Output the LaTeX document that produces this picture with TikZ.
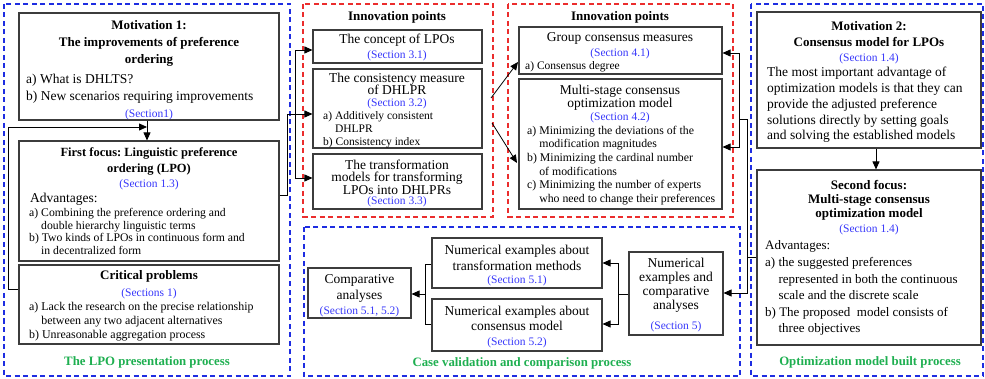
\documentclass[tikz,border=0pt]{standalone}
\usepackage{fontspec}
\setmainfont{Liberation Serif}
\usetikzlibrary{arrows.meta,calc}
\definecolor{secblue}{RGB}{55,55,250}
\definecolor{dblue}{RGB}{30,45,225}
\definecolor{dred}{RGB}{235,45,45}
\definecolor{lgreen}{RGB}{30,175,80}
\definecolor{boxgray}{RGB}{60,60,60}
\tikzset{
  box/.style={draw=boxgray, line width=1.1pt, inner sep=0pt},
  bluereg/.style={draw=dblue, dashed, dash pattern=on 5pt off 3.5pt, line width=1.1pt},
  redreg/.style={draw=dred, dashed, dash pattern=on 5pt off 3.5pt, line width=1.1pt},
  conn/.style={draw=black, line width=0.8pt},
  arr/.style={conn, -{Triangle[length=8pt,width=7pt]}},
  txt/.style={inner sep=0pt, yshift=-1.5pt},
  ttl/.style={txt, align=center, font=\fontsize{13}{16}\bfseries\selectfont},
  ttlB/.style={txt, align=center, font=\fontsize{13.5}{15}\selectfont},
  sec/.style={txt, text=secblue, font=\fontsize{11.5}{12}\selectfont},
  bodyA/.style={txt, align=left, anchor=west, font=\fontsize{13.5}{16.5}\selectfont},
  bodyB/.style={txt, align=left, anchor=west, font=\fontsize{11.8}{13}\selectfont},
  proc/.style={txt, text=lgreen, font=\fontsize{12.8}{15}\bfseries\selectfont},
}
\newcommand{\ind}{\phantom{a) }}
\frenchspacing
\begin{document}
\begin{tikzpicture}[x=1pt,y=-1pt]
\useasboundingbox (0,0) rectangle (985,379);
% regions
\draw[bluereg] (4,4) rectangle (290,376);
\draw[redreg] (303,4) rectangle (493,217);
\draw[redreg] (508,4) rectangle (733,217);
\draw[bluereg] (304,227) rectangle (740,376);
\draw[bluereg] (751,4) rectangle (983,376);

% boxes
\node[box, minimum width=260pt, minimum height=107pt] (m1) at (149,66.5) {};
\node[box, minimum width=260pt, minimum height=120pt] (ff) at (149,201) {};
\node[box, minimum width=260pt, minimum height=79pt] (cp) at (149,304.5) {};
\node[box, minimum width=169pt, minimum height=33pt] (con) at (397.5,46.5) {};
\node[box, minimum width=169pt, minimum height=79pt] (cm) at (397.5,108.5) {};
\node[box, minimum width=169pt, minimum height=55pt] (tm) at (397.5,181.5) {};
\node[box, minimum width=203pt, minimum height=47pt] (gc) at (620.5,50.5) {};
\node[box, minimum width=203pt, minimum height=130pt] (ms) at (620.5,144) {};
\node[box, minimum width=224pt, minimum height=136pt] (m2) at (869,80) {};
\node[box, minimum width=224pt, minimum height=175pt] (sf) at (869,257.5) {};
\node[box, minimum width=103pt, minimum height=50pt] (ca) at (359.5,293) {};
\node[box, minimum width=170pt, minimum height=50pt] (nt) at (517,263) {};
\node[box, minimum width=170pt, minimum height=52pt] (nc) at (517,325) {};
\node[box, minimum width=94pt, minimum height=83pt] (ne) at (676,293.5) {};

% texts: left column
\node[ttl, font=\fontsize{13}{17}\bfseries\selectfont] (m1t) at (149,42) {Motivation 1:\\The improvements of preference\\ordering};
\node[bodyA, font=\fontsize{13.5}{17}\selectfont] (m1b) at (26,87.5) {a) What is DHLTS?\\b) New scenarios requiring improvements};
\node[sec] (m1s) at (149,113) {(Section1)};
\node[ttl, font=\fontsize{12.5}{16}\bfseries\selectfont] (fft) at (149,160) {First focus: Linguistic preference\\ordering (LPO)};
\node[sec] (ffs) at (149,183) {(Section 1.3)};
\node[bodyA] (ffa) at (30,198) {Advantages:};
\node[bodyB, font=\fontsize{11.7}{12.7}\selectfont] (ffb) at (29,231) {a) Combining the preference ordering and\\\ind double hierarchy linguistic terms\\b) Two kinds of LPOs in continuous form and\\\ind in decentralized form};
\node[ttl] (cpt) at (149,275) {Critical problems};
\node[sec] (cps) at (149,292) {(Sections 1)};
\node[bodyB, font=\fontsize{11.9}{14}\selectfont] (cpb) at (29,320) {a) Lack the research on the precise relationship\\\ind between any two adjacent alternatives\\b) Unreasonable aggregation process};
\node[proc] (l1) at (147,361) {The LPO presentation process};

% red region 1
\node[ttl] (ip1) at (397,16) {Innovation points};
\node[ttlB] (cont) at (397,39) {The concept of LPOs};
\node[sec] (cons) at (397,54) {(Section 3.1)};
\node[ttlB, font=\fontsize{13.5}{12.5}\selectfont] (cmt) at (397,82.5) {The consistency measure\\of DHLPR};
\node[sec] (cms) at (397,102) {(Section 3.2)};
\node[bodyB, font=\fontsize{11.5}{13}\selectfont] (cmb) at (323,128) {a) Additively consistent\\\ind DHLPR\\b) Consistency index};
\node[ttlB, font=\fontsize{13.5}{12.5}\selectfont] (tmt) at (397,175.5) {The transformation\\models for transforming\\LPOs into DHLPRs};
\node[sec] (tms) at (397,200) {(Section 3.3)};

% red region 2
\node[ttl] (ip2) at (620,16) {Innovation points};
\node[ttlB] (gct) at (620,37) {Group consensus measures};
\node[sec] (gcs) at (620,52) {(Section 4.1)};
\node[bodyB, font=\fontsize{11.5}{13}\selectfont] (gcb) at (525,65) {a) Consensus degree};
\node[ttlB, font=\fontsize{13.5}{13}\selectfont] (mst) at (620,96.5) {Multi-stage consensus\\optimization model};
\node[sec] (mss) at (620,116) {(Section 4.2)};
\node[bodyB, font=\fontsize{11.8}{13.6}\selectfont] (msb) at (527,164) {a) Minimizing the deviations of the\\\ind modification magnitudes\\b) Minimizing the cardinal number\\\ind of modifications\\c) Minimizing the number of experts\\\ind who need to change their preferences};

% right column
\node[ttl] (m2t) at (869,33) {Motivation 2:\\Consensus model for LPOs};
\node[sec] (m2s) at (869,57) {(Section 1.4)};
\node[bodyA, font=\fontsize{13.5}{15.75}\selectfont] (m2b) at (767,103.5) {The most important advantage of\\optimization models is that they can\\provide the adjusted preference\\solutions directly by setting goals\\and solving the established models};
\node[ttl, font=\fontsize{13}{14}\bfseries\selectfont] (sft) at (869,199) {Second focus:\\Multi-stage consensus\\optimization model};
\node[sec] (sfs) at (869,228) {(Section 1.4)};
\node[bodyA, font=\fontsize{13}{16.5}\selectfont] (sfa) at (765,245) {Advantages:};
\node[bodyA, font=\fontsize{13}{16.5}\selectfont] (sfb) at (765,295) {a) the suggested preferences\\\ind represented in both the continuous\\\ind scale and the discrete scale\\b) The proposed \ model consists of\\\ind three objectives};
\node[proc] (l3) at (870,361) {Optimization model built process};

% bottom middle
\node[ttlB, font=\fontsize{13.5}{16}\selectfont] (cat) at (359.5,287) {Comparative\\analyses};
\node[sec] (cas) at (359.5,310) {(Section 5.1, 5.2)};
\node[ttlB, font=\fontsize{13.5}{16.5}\selectfont] (ntt) at (517,256.5) {Numerical examples about\\transformation methods};
\node[sec] (nts) at (517,279) {(Section 5.1)};
\node[ttlB, font=\fontsize{13.5}{15}\selectfont] (nct) at (517,316.5) {Numerical examples about\\consensus model};
\node[sec] (ncs) at (517,341) {(Section 5.2)};
\node[ttlB, font=\fontsize{13.5}{14}\selectfont] (net) at (676,284) {Numerical\\examples and\\comparative\\analyses};
\node[sec] (nes) at (676,325) {(Section 5)};
\node[proc] (l2) at (522,362) {Case validation and comparison process};

% junction coordinates
\coordinate (j1) at (147,127);
\coordinate (j2) at (295,114);
\coordinate (d1) at (491,98);
\coordinate (d2) at (492,123);
\coordinate (j3) at (739,119);
\coordinate (j4) at (747,257);
\coordinate (j5) at (618,294);
\coordinate (j6) at (425,294);

% connectors
\draw[arr] (m1.south -| 147,0) -- (ff.north -| 147,0);
\draw[conn] (cp.west |- 0,289) -| (8,127) -- (140,127);
\draw[arr] (8,127) -- (j1);
\draw[arr] (ff.east |- 0,195) -| (287,114) -- (cm.west |- 0,114);
\draw[arr] (j2) |- (con.west |- 0,50);
\draw[arr] (j2) |- (tm.west |- 0,178);
\draw[arr] (d1) -- (518,62);
\draw[arr] (d2) -- (517,163);
\draw[conn] (sf.west |- 0,257) -- (j4) |- (j3);
\draw[arr] (j3) |- (gc.east |- 0,53);
\draw[arr] (j3) |- (ms.east |- 0,147);
\draw[arr] (j4) |- (ne.east |- 0,293);
\draw[arr] (m2.south -| 876,0) -- (sf.north -| 876,0);
\draw[conn] (ne.west |- 0,294) -- (j5);
\draw[arr] (j5) |- (nt.east |- 0,263);
\draw[arr] (j5) |- (nc.east |- 0,324);
\draw[conn] (nt.west |- 0,264) -| (j6);
\draw[conn] (nc.west |- 0,324) -| (j6);
\draw[arr] (j6) -- (ca.east |- 0,294);
\end{tikzpicture}
\end{document}
